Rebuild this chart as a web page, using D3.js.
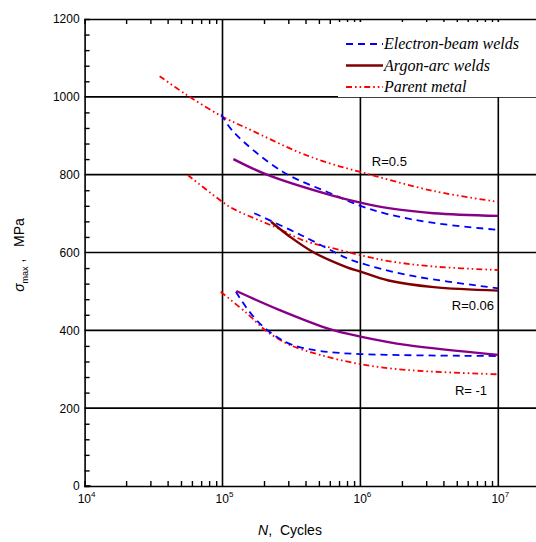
<!DOCTYPE html>
<html>
<head>
<meta charset="utf-8">
<script src="https://cdn.jsdelivr.net/npm/d3@7"></script>
<style>
  body { margin: 0; background: #fff; }
  svg { display: block; }
</style>
</head>
<body>
<div id="chart"></div>
<script>
// S-N curves, values ([cycles, stress MPa])
const parentR05 = [[3.5e4, 1053], [5.5e4, 1005], [1e5, 949], [1.6e5, 915], [3.5e5, 859], [6e5, 829], [1e6, 807], [3.4e6, 758], [1e7, 730]];
const ebeamR05 = [[9.8e4, 955], [1.2e5, 910], [2.75e5, 807], [6e5, 753], [1e6, 720], [1.6e6, 698], [3.4e6, 676], [1e7, 658]];
const argonR05 = [[1.2e5, 840], [2.1e5, 800], [6e5, 748], [1e6, 728], [1.6e6, 714], [3.4e6, 701], [1e7, 694]];

const parentR006 = [[5.6e4, 799], [1e5, 730], [1.2e5, 712], [2.6e5, 660], [3.8e5, 632], [7.2e5, 606], [1e6, 593], [1.6e6, 578], [3.4e6, 564], [1e7, 555]];
const ebeamR006 = [[1.7e5, 701], [3.1e5, 658], [4.5e5, 630], [7.8e5, 587], [1e6, 573], [2.2e6, 542], [1e7, 508]];
const argonR006 = [[2.25e5, 679], [3.1e5, 640], [4.6e5, 600], [8e5, 562], [1e6, 551], [1.6e6, 528], [3.4e6, 511], [1e7, 502]];

const parentRm1 = [[9.7e4, 499], [1.5e5, 444], [2.1e5, 397], [3.1e5, 362], [5.1e5, 337], [1e6, 313], [2.2e6, 298], [1e7, 287]];
const ebeamRm1 = [[1.25e5, 499], [1.5e5, 457], [1.86e5, 418], [2.45e5, 384], [3.25e5, 362], [5.1e5, 347], [1e6, 339], [1e7, 334]];
const argonRm1 = [[1.26e5, 501], [2.6e5, 452], [6e5, 403], [1e6, 384], [2.2e6, 362], [1e7, 337]];

const yMajor = [0, 200, 400, 600, 800, 1000, 1200];
const xDecades = [4, 5, 6, 7];
const legendLabels = ['Electron-beam welds', 'Argon-arc welds', 'Parent metal'];
const curveLabels = [['R=0.5', 1.21e6, 822], ['R=0.06', 4.6e6, 452], ['R= -1', 4.85e6, 234]];

const width = 536;
const height = 542;

const x = d3.scaleLog().domain([1e4, Math.pow(10, 7.5)]).range([84.6, 84.6 + 137.9 * 3.5]);
const y = d3.scaleLinear().domain([0, 1200]).range([486, 19]);

const svg = d3.select('#chart').append('svg')
  .attr('width', width)
  .attr('height', height)
  .style('font-family', '"Liberation Sans", Arial, sans-serif');

const styles = {
  ebeam: { color: '#0000ff', dash: '7,5', w: 1.8 },
  argon: { color: '#800000', dash: null, w: 2.4 },
  argonP: { color: '#880088', dash: null, w: 2.4 },
  parent: { color: '#ff0000', dash: '6,3,1.6,3,1.6,3', w: 1.8 }
};

// grid
const grid = svg.append('g');
grid.selectAll('line.h').data(yMajor.filter((v) => v > 0 && v < 1200))
  .enter().append('line')
  .attr('x1', x(1e4)).attr('x2', width)
  .attr('y1', (d) => y(d)).attr('y2', (d) => y(d))
  .attr('stroke', '#000').attr('stroke-width', 1.6);
grid.selectAll('line.v').data([1e5, 1e6, 1e7])
  .enter().append('line')
  .attr('x1', (d) => x(d)).attr('x2', (d) => x(d))
  .attr('y1', y(0)).attr('y2', y(1200))
  .attr('stroke', '#000').attr('stroke-width', 1.6);

// minor ticks on bottom/top
const minorX = [];
[1e4, 1e5, 1e6, 1e7].forEach((dec) => {
  for (let k = 2; k <= 9; k++) minorX.push(dec * k);
});
const bottomAxis = svg.append('g').attr('transform', `translate(0,${y(0)})`)
  .call(d3.axisBottom(x).tickValues(minorX.filter((v) => v < 3e7)).tickSize(-5).tickFormat(''));
const topAxis = svg.append('g').attr('transform', `translate(0,${y(1200)})`)
  .call(d3.axisTop(x).tickValues(minorX.filter((v) => v < 3e7)).tickSize(-5).tickFormat(''));
[bottomAxis, topAxis].forEach((a) => {
  a.select('.domain').attr('stroke', '#000').attr('stroke-width', 1.6);
  a.selectAll('.tick line').attr('stroke', '#000').attr('stroke-width', 1.4);
});

// left axis
const yMinor = d3.range(0, 1201, 40).filter((v) => v % 200 !== 0);
const leftMinor = svg.append('g').attr('transform', `translate(${x(1e4)},0)`)
  .call(d3.axisLeft(y).tickValues(yMinor).tickSize(-5).tickFormat(''));
leftMinor.select('.domain').attr('stroke', '#000').attr('stroke-width', 1.6);
leftMinor.selectAll('.tick line').attr('stroke', '#000').attr('stroke-width', 1.4);

const leftMajor = svg.append('g').attr('transform', `translate(${x(1e4)},0)`)
  .call(d3.axisLeft(y).tickValues(yMajor).tickSize(0).tickPadding(5).tickFormat(d3.format('d')));
leftMajor.select('.domain').remove();
leftMajor.selectAll('text')
  .style('font-family', '"Liberation Sans", Arial, sans-serif')
  .style('font-size', '12px').attr('fill', '#000');
svg.append('line').attr('x1', x(1e4)).attr('x2', x(1e4) + 6)
  .attr('y1', y(0)).attr('y2', y(0)).attr('stroke', '#000').attr('stroke-width', 1.6);

// x tick labels 10^n
const xLab = svg.append('g');
xDecades.forEach((p) => {
  const t = xLab.append('text')
    .attr('x', x(Math.pow(10, p)) + 2)
    .attr('y', 503)
    .attr('text-anchor', 'middle')
    .style('font-size', '12px');
  t.append('tspan').text('10');
  t.append('tspan').attr('dy', -6).style('font-size', '8px').text(p);
});

// axis titles
const xt = svg.append('text').attr('x', 290).attr('y', 535)
  .attr('text-anchor', 'middle').style('font-size', '14px');
xt.append('tspan').style('font-style', 'italic').text('N');
xt.append('tspan').attr('xml:space', 'preserve').text(',  Cycles');

const yt = svg.append('text')
  .attr('transform', 'translate(24,255) rotate(-90)')
  .attr('text-anchor', 'middle').style('font-size', '14px');
yt.append('tspan').style('font-style', 'italic').text('σ');
yt.append('tspan').attr('dy', 4).style('font-size', '9px').text('max');
yt.append('tspan').attr('dy', -4).attr('xml:space', 'preserve').text(' ,   MPa');

// curves
const line = d3.line()
  .x((d) => x(d[0]))
  .y((d) => y(d[1]))
  .curve(d3.curveCatmullRom.alpha(0.5));

const curves = [
  [parentR05, styles.parent], [parentR006, styles.parent], [parentRm1, styles.parent],
  [ebeamR05, styles.ebeam], [ebeamR006, styles.ebeam], [ebeamRm1, styles.ebeam],
  [argonR05, styles.argonP], [argonR006, styles.argon], [argonRm1, styles.argonP]
];
const curveLayer = svg.append('g');
curves.forEach(([pts, s]) => {
  curveLayer.append('path')
    .datum(pts)
    .attr('d', line)
    .attr('fill', 'none')
    .attr('stroke', s.color)
    .attr('stroke-width', s.w)
    .attr('stroke-dasharray', s.dash);
});

// curve labels
svg.append('g').selectAll('text').data(curveLabels).enter().append('text')
  .attr('x', (d) => x(d[1]))
  .attr('y', (d) => y(d[2]))
  .style('font-size', '13px')
  .text((d) => d[0]);

// legend
const legend = svg.append('g');
legend.append('rect').attr('x', 338).attr('y', 22).attr('width', 210).attr('height', 75).attr('fill', '#fff');
const legendStyles = [styles.ebeam, styles.argon, styles.parent];
legendLabels.forEach((lab, i) => {
  const ly = 44 + i * 21.5;
  legend.append('line')
    .attr('x1', 346).attr('x2', 383).attr('y1', ly).attr('y2', ly)
    .attr('stroke', legendStyles[i].color)
    .attr('stroke-width', legendStyles[i].w)
    .attr('stroke-dasharray', legendStyles[i].dash);
  legend.append('text')
    .attr('x', 384).attr('y', ly + 5)
    .style('font-family', '"Liberation Serif", "Times New Roman", serif')
    .style('font-style', 'italic')
    .style('font-size', '16px')
    .text(lab);
});
</script>
</body>
</html>
